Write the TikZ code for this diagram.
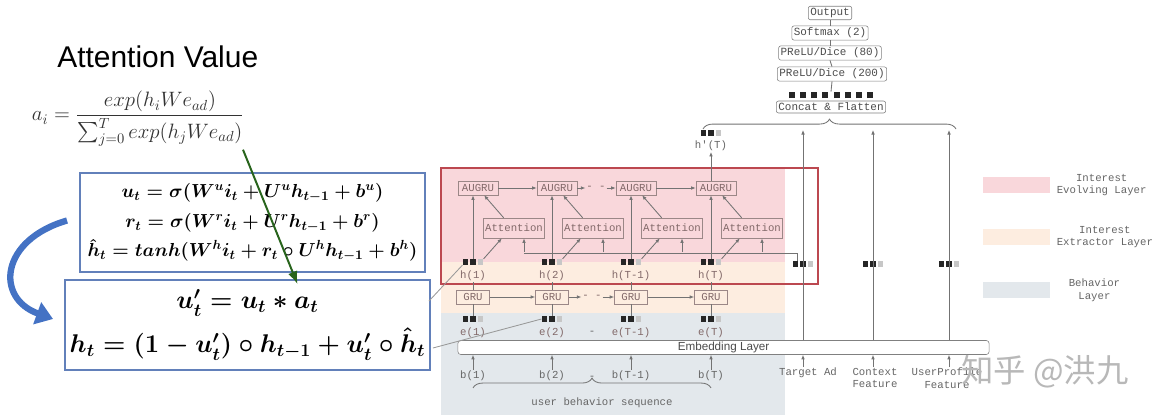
\RequirePackage{fix-cm}
\documentclass[tikz,border=0pt]{standalone}
\usepackage{amsmath}
\usepackage{fontspec}
\setmonofont{Liberation Mono}
\newfontfamily\headfont{Liberation Sans}
\newfontfamily\cjkfont{Noto Sans CJK SC}
\usetikzlibrary{positioning,arrows.meta,calc,decorations.pathreplacing}

\definecolor{evolvepink}{RGB}{249,215,219}
\definecolor{extractorange}{RGB}{253,237,224}
\definecolor{behaviorgray}{RGB}{227,232,236}
\definecolor{boxred}{RGB}{188,72,80}
\definecolor{eqblue}{RGB}{98,128,186}
\definecolor{curveblue}{RGB}{68,114,196}
\definecolor{attgreen}{RGB}{40,100,28}
\definecolor{celltext}{RGB}{130,105,105}

\newcommand{\embcells}{\textcolor{black!85}{\rule{4pt}{4pt}}\hspace{1.3pt}\textcolor{black!85}{\rule{4pt}{4pt}}\hspace{1.3pt}\textcolor{black!22}{\rule{4pt}{4pt}}}
\newcommand{\concatcells}{\rule{4.3pt}{4.3pt}\hspace{3.7pt}\rule{4.3pt}{4.3pt}\hspace{3.7pt}\rule{4.3pt}{4.3pt}\hspace{3.7pt}\rule{4.3pt}{4.3pt}\hspace{3.7pt}\rule{4.3pt}{4.3pt}\hspace{3.7pt}\rule{4.3pt}{4.3pt}\hspace{3.7pt}\rule{4.3pt}{4.3pt}\hspace{3.7pt}\rule{4.3pt}{4.3pt}}

\begin{document}
\begin{tikzpicture}[
        x=0.025cm, y=-0.025cm,
        >=Latex,
        line/.style={draw=black!55, line width=0.6pt},
        arrow/.style={-{Latex[length=3.2pt,width=2.6pt]}, line width=0.6pt, draw=black!55},
        cell/.style={
            draw=celltext!80,
            text=celltext,
            font=\ttfamily\fontsize{7.6}{8}\selectfont,
            inner sep=1pt,
            minimum height=0.35cm
        },
        stackbox/.style={
            draw=black!50,
            text=black!70,
            rounded corners=1.5pt,
            font=\ttfamily\fontsize{7.8}{8}\selectfont,
            inner sep=1.4pt,
            minimum height=0.28cm
        },
        lbl/.style={text=black!60, font=\ttfamily\fontsize{7.6}{9}\selectfont, inner sep=0.5pt, align=center},
        vecnode/.style={inner sep=0pt},
        eqbox/.style={draw=eqblue, line width=1.3pt, align=center, inner sep=0pt},
        legbar/.style={minimum width=1.675cm, minimum height=0.4cm, inner sep=0pt}
    ]

    \useasboundingbox[fill=white] (0,0) rectangle (1164,420);

    % Step 1: layer backgrounds and the evolving frame
    \fill[evolvepink] (441,168) rectangle (785,262);
    \fill[extractorange] (441,262) rectangle (785,313);
    \fill[behaviorgray] (441,313) rectangle (785,415);
    \node[draw=boxred, line width=1.5pt, minimum width=9.425cm, minimum height=2.9cm, inner sep=0pt] (evolvebox) at (629.5,226) {};

    % Step 2: columns of the sequence
    \foreach \i/\x/\t in {1/473/1, 2/552/2, 3/631/T-1, 4/711/T} {
        \node[cell, minimum width=1cm] (augru\i) at (\x+5,188) {AUGRU};
        \node[cell, minimum width=1.5cm, minimum height=0.5cm] (att\i) at (\x+41,228) {Attention};
        \node[vecnode] (h\i) at (\x,262) {\embcells};
        \node[lbl, text=celltext] (hl\i) at (\x,276) {h(\t)};
        \node[cell, minimum width=0.83cm] (gru\i) at (\x,297) {GRU};
        \node[vecnode] (e\i) at (\x,319) {\embcells};
        \node[lbl, text=celltext] (el\i) at (\x,333) {e(\t)};
        \node[lbl] (b\i) at (\x,376) {b(\t)};
        \coordinate (qa\i) at ($(att\i.south)+(10,0)$);
    }
    \node[lbl] (edash) at (592,333) {-};
    \node[lbl] (bdash) at (592,378) {-};
    \node[lbl, text=celltext] (augrudash) at (596,188) {- -};
    \node[lbl, text=celltext] (grudash) at (592,297) {- -};

    % Step 3: embedding layer and side features
    \node[draw=black!50, fill=white, rounded corners=2pt, minimum width=13.275cm, minimum height=0.35cm,
        inner sep=0pt, font=\headfont\fontsize{8.3}{9}\selectfont, text=black!70] (emb) at (723.5,347.5) {Embedding Layer};

    \node[vecnode] (tavec) at (803,264) {\embcells};
    \node[vecnode] (ctxvec) at (873,264) {\embcells};
    \node[vecnode] (upvec) at (949,264) {\embcells};
    \node[lbl, anchor=north] (talab) at (808,367) {Target Ad};
    \node[lbl, anchor=north] (ctxlab) at (875,367) {Context\\Feature};
    \node[lbl, anchor=north] (uplab) at (947,367) {UserProfile\\Feature};

    % Step 4: output stack
    \node[vecnode] (hp) at (711,133) {\embcells};
    \node[lbl] (hpl) at (711,146) {h'(T)};
    \node[stackbox] (output) at (830,13) {Output};
    \node[stackbox] (softmax) at (830,33) {Softmax (2)};
    \node[stackbox] (prelu80) at (830,53) {PReLU/Dice (80)};
    \node[stackbox] (prelu200) at (832,74) {PReLU/Dice (200)};
    \node[vecnode, text=black!85] (cdots) at (831,95) {\concatcells};
    \node[stackbox] (concat) at (831,107) {Concat \& Flatten};
    \coordinate (bracebase) at (0,130);

    % Step 5: connectors of the sequence
    \foreach \i in {1,...,4} {
        \draw[arrow] (h\i.north) -- (h\i.north |- augru\i.south);
        \draw[arrow] (h\i.north east) -- ($(att\i.south west)!0.3!(att\i.south east)$);
        \draw[arrow] ($(att\i.north west)!0.33!(att\i.north east)$) -- ($(augru\i.south west)!0.65!(augru\i.south east)$);
        \draw[line] (gru\i.north) -- (hl\i.south);
        \draw[line] (e\i.north) -- (gru\i.south);
        \draw[arrow] (b\i.north) -- (b\i.north |- emb.south);
        \draw[arrow] (qa\i |- tavec.north) ++(0,-9) -- (qa\i);
    }
    \coordinate (qend) at (797,253);
    \draw[line] (qa1 |- qend) -- (qend) -- (qend |- tavec.north);
    \draw[arrow] (augru1) -- (augru2);
    \draw[arrow] (augru2) -- (augrudash);
    \draw[arrow] (augrudash) -- (augru3);
    \draw[arrow] (augru3) -- (augru4);
    \draw[arrow] (gru1) -- (gru2);
    \draw[arrow] (gru2) -- (grudash);
    \draw[arrow] (grudash) -- (gru3);
    \draw[arrow] (gru3) -- (gru4);
    \draw[arrow] (hpl.south |- augru4.north) -- (hpl.south);

    \draw[line, decorate, decoration={brace, amplitude=7pt, mirror}] (b4.south) ++(0,6) -- ($(b1.south)+(0,6)$);
    \node[lbl] (seqlab) at (602,403) {user behavior sequence};

    % Step 6: side features up to the concat layer
    \draw[arrow] (tavec |- emb.north) -- (tavec |- bracebase);
    \draw[arrow] (ctxvec |- emb.north) -- (ctxvec |- bracebase);
    \draw[arrow] (upvec |- emb.north) -- (upvec |- bracebase);
    \draw[arrow] (talab.north -| tavec) -- (tavec |- emb.south);
    \draw[arrow] (ctxlab.north -| ctxvec) -- (ctxvec |- emb.south);
    \draw[arrow] (uplab.north -| upvec) -- (upvec |- emb.south);
    \draw[line, decorate, decoration={brace, amplitude=7pt}] (703,129) -- (956,129);
    \draw[line] (cdots.north) -- (prelu200.south);
    \draw[line] (prelu200.north) -- (prelu80.south);
    \draw[line] (prelu80.north) -- (softmax.south);
    \draw[line] (softmax.north) -- (output.south);

    % Step 7: legend
    \node[legbar, fill=evolvepink] (legevolve) at (1016,185) {};
    \node[legbar, fill=extractorange] (legextract) at (1016,237) {};
    \node[legbar, fill=behaviorgray] (legbehavior) at (1016,290) {};
    \node[lbl, right=0.15cm of legevolve] {Interest\\Evolving Layer};
    \node[lbl, right=0.15cm of legextract] {Interest\\Extractor Layer};
    \node[lbl, right=0.45cm of legbehavior] {Behavior\\Layer};

    % Step 8: equations on the left
    \node[anchor=base west, inner sep=0pt, font=\headfont\fontsize{21.3}{24}\selectfont] (attvalue) at (57,68) {Attention Value};
    \node[text=black!80, font=\fontsize{14.8}{18}\selectfont] (attform) at (138,119)
        {$\displaystyle a_i = \frac{exp(h_i W e_{ad})}{\sum_{j=0}^{T} exp(h_j W e_{ad})}$};

    \node[eqbox, minimum width=8.625cm, minimum height=2.475cm, font=\fontsize{13.4}{21}\selectfont\boldmath] (upperbox) at (252.5,222.5) {
        $u_t = \sigma(W^u i_t + U^u h_{t-1} + b^u)$\\
        $r_t = \sigma(W^r i_t + U^r h_{t-1} + b^r)$\\
        $\hat{h}_t = tanh(W^h i_t + r_t \circ U^h h_{t-1} + b^h)$
    };
    \node[eqbox, minimum width=9.125cm, minimum height=2.25cm, font=\fontsize{18.2}{22}\selectfont\boldmath] (lowerbox) at (247.5,325) {
        $u'_t = u_t * a_t$\\[7pt]
        $h_t = (1 - u'_t) \circ h_{t-1} + u'_t \circ \hat{h}_t$
    };

    \draw[-{Latex[length=9pt,width=7pt]}, draw=attgreen, fill=attgreen, line width=1.4pt]
        ($(attform.south east)+(-6,-2)$) -- ($(lowerbox.north)+(50,5)$);
    \draw[-{Triangle[length=12pt,width=16pt]}, draw=curveblue, line width=4.5pt]
        ($(upperbox.west)+(-12,-2)$) .. controls (0,240) and (-5,298) .. ($(lowerbox.west)+(-11,-6)$);

    \draw[draw=black!40, line width=0.6pt] ($(lowerbox.north east)+(-2,22)$) -- (h1.south west);
    \draw[draw=black!40, line width=0.6pt] ($(lowerbox.east)+(2,23)$) -- (e2.west);

    % Step 9: watermark
    \node[text=black!28, font=\cjkfont\fontsize{23}{25}\selectfont] (mark) at (1045,372) {知乎 @洪九};

\end{tikzpicture}
\end{document}
